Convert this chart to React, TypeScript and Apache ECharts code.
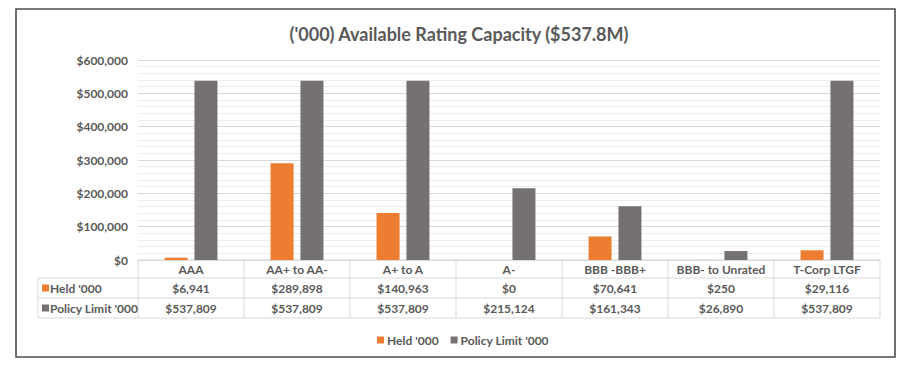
import React, { useEffect, useRef } from "react";
import * as echarts from "echarts";

const categories = ["AAA", "AA+ to AA-", "A+ to A", "A-", "BBB -BBB+", "BBB- to Unrated", "T-Corp LTGF"];
const heldValues = [6941, 289898, 140963, 0, 70641, 250, 29116];
const policyValues = [537809, 537809, 537809, 215124, 161343, 26890, 537809];
const seriesNames = ["Held '000", "Policy Limit '000"];
const titleText = "('000) Available Rating Capacity ($537.8M)";

const ORANGE = "#ED7D31";
const GRAY = "#767171";
const TEXT = "#595959";
const FONT = "Lato, 'Open Sans', sans-serif";

const fmt = (v: number) => "$" + v.toLocaleString("en-US");

export default function App() {
  const ref = useRef<HTMLDivElement>(null);
  useEffect(() => {
    if (!ref.current) return;
    const chart = echarts.init(ref.current, undefined, { renderer: "svg" });
    const W = 902, H = 370;
    const gl = 138, gr = 880, gt = 60, gb = 260;
    const tableLeft = 38;
    const rowY = [260, 278, 298, 318];
    const n = categories.length;
    const cw = (gr - gl) / n;
    const lineStyle = { stroke: "#D9D9D9", lineWidth: 1 };
    const graphics: any[] = [];
    graphics.push({
      type: "rect",
      shape: { x: 16, y: 9, width: 879, height: 348 },
      style: { fill: "none", stroke: "#4D4D4D", lineWidth: 1.6 },
      silent: true,
    });
    // horizontal table lines
    graphics.push({ type: "line", shape: { x1: gl, y1: rowY[0], x2: gr, y2: rowY[0] }, style: lineStyle });
    for (let r = 1; r < rowY.length; r++) {
      graphics.push({ type: "line", shape: { x1: tableLeft, y1: rowY[r], x2: gr, y2: rowY[r] }, style: lineStyle });
    }
    // vertical lines
    graphics.push({ type: "line", shape: { x1: tableLeft, y1: rowY[1], x2: tableLeft, y2: rowY[3] }, style: lineStyle });
    for (let i = 0; i <= n; i++) {
      const x = gl + i * cw;
      graphics.push({ type: "line", shape: { x1: x, y1: rowY[0], x2: x, y2: rowY[3] }, style: lineStyle });
    }
    // row headers
    const colors = [ORANGE, GRAY];
    seriesNames.forEach((name, k) => {
      const cy = (rowY[k + 1] + rowY[k + 2]) / 2;
      graphics.push({ type: "rect", shape: { x: 42, y: cy - 3.5, width: 7, height: 7 }, style: { fill: colors[k] } });
      graphics.push({
        type: "text",
        x: 50,
        y: cy,
        style: { text: name, fill: TEXT, font: `bold 12px ${FONT}`, verticalAlign: "middle", align: "left" },
      });
    });

    const hideAxis = { show: false };
    chart.setOption({
      animation: false,
      backgroundColor: "#FFFFFF",
      title: {
        text: titleText,
        left: 454,
        textAlign: "center",
        top: 20,
        textStyle: { color: TEXT, fontSize: 18, fontWeight: "bold", fontFamily: FONT },
      },
      legend: {
        data: seriesNames,
        left: 372,
        top: 329,
        icon: "rect",
        itemWidth: 7,
        itemHeight: 7,
        itemGap: 12,
        textStyle: { color: TEXT, fontSize: 12, fontWeight: "bold", fontFamily: FONT, padding: [0, 0, 0, -2] },
      },
      grid: { left: gl, right: W - gr, top: gt, bottom: H - gb, containLabel: false },
      xAxis: [
        {
          type: "category",
          data: categories,
          position: "bottom",
          axisLine: hideAxis,
          axisTick: hideAxis,
          axisLabel: { color: TEXT, fontSize: 12, fontWeight: "bold", fontFamily: FONT, margin: 3, interval: 0 },
        },
        {
          type: "category",
          data: heldValues.map(fmt),
          position: "bottom",
          offset: 20,
          axisLine: hideAxis,
          axisTick: hideAxis,
          axisLabel: { color: TEXT, fontSize: 12, fontWeight: "bold", fontFamily: FONT, margin: 2, interval: 0 },
        },
        {
          type: "category",
          data: policyValues.map(fmt),
          position: "bottom",
          offset: 40,
          axisLine: hideAxis,
          axisTick: hideAxis,
          axisLabel: { color: TEXT, fontSize: 12, fontWeight: "bold", fontFamily: FONT, margin: 2, interval: 0 },
        },
      ],
      yAxis: {
        type: "value",
        min: 0,
        max: 600000,
        interval: 100000,
        axisLine: hideAxis,
        axisTick: hideAxis,
        axisLabel: {
          color: TEXT,
          fontSize: 12,
          fontWeight: "bold",
          fontFamily: FONT,
          margin: 10,
          formatter: (v: number) => fmt(v),
        },
        splitLine: { lineStyle: { color: "#D9D9D9", width: 1 } },
        minorTick: { show: false, splitNumber: 5 },
        minorSplitLine: { show: true, lineStyle: { color: "#EDEDED", width: 1 } },
      },
      series: [
        {
          name: seriesNames[0],
          type: "bar",
          data: heldValues,
          itemStyle: { color: ORANGE },
          barWidth: 23,
          barGap: "30%",
          xAxisIndex: 0,
        },
        {
          name: seriesNames[1],
          type: "bar",
          data: policyValues,
          itemStyle: { color: GRAY },
          barWidth: 23,
          barGap: "30%",
          xAxisIndex: 0,
        },
      ],
      graphic: graphics,
    });
    return () => chart.dispose();
  }, []);
  return (
    <div
      ref={ref}
      style={{ position: "absolute", left: 0, top: 0, width: 902, height: 370, background: "#fff" }}
    />
  );
}
